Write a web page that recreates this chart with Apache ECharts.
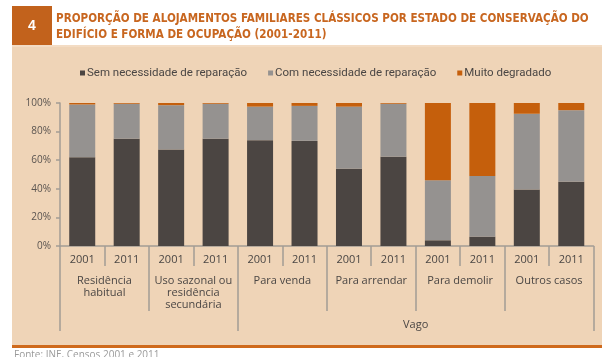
<!DOCTYPE html>
<html><head><meta charset="utf-8">
<script src="https://cdn.jsdelivr.net/npm/echarts@6/dist/echarts.min.js"></script>
<style>html,body{margin:0;padding:0;background:#fff}#c{width:610px;height:357px}</style>
</head><body><div id="c"></div>
<script>
const years = ['2001','2011','2001','2011','2001','2011','2001','2011','2001','2011','2001','2011'];
const groups = ['Residência\nhabitual','Uso sazonal ou\nresidência\nsecundária','Para venda','Para arrendar','Para demolir','Outros casos'];
const topGroup = ['','','','','','','','Vago','','','',''];
const semNecessidade = [62,75,67.5,75,74,73.5,54,62.5,4,6.5,39.5,45];
const comNecessidade = [37,24.5,31,24.5,23.5,24.5,43.5,37,42,42.5,53,50];
const muitoDegradado = [1,0.5,1.5,0.5,2.5,2,2.5,0.5,54,51,7.5,5];
const seriesNames = ['Sem necessidade de reparação','Com necessidade de reparação','Muito degradado'];
const yTicks = [0,20,40,60,80,100];

const chart = echarts.init(document.getElementById('c'), null, {renderer:'canvas'});
const FONT = 'Open Sans';
const axisCol = '#a39c95';
const txtCol = '#4a4644';
chart.setOption({
  animation:false,
  color:['#4b4542','#959290','#c55f0c'],
  graphic:[
    {type:'rect', shape:{x:12,y:47,width:590,height:298}, style:{fill:'#efd4b7'}, z:-10},
    {type:'rect', shape:{x:12,y:345,width:590,height:3}, style:{fill:'#cf6a1c'}, z:-9},
    {type:'rect', shape:{x:12,y:45,width:590,height:2}, style:{fill:'#f3dcc4'}, z:-9},
    {type:'rect', shape:{x:12,y:6,width:40,height:39}, style:{fill:'#c2621c'}},
    {type:'text', x:32, y:26, style:{text:'4', fill:'#fff', font:'bold 14px "Liberation Sans"', align:'center', verticalAlign:'middle'}},
    {type:'text', x:56, y:11, scaleX:0.965, style:{text:'PROPORÇÃO DE ALOJAMENTOS FAMILIARES CLÁSSICOS POR ESTADO DE CONSERVAÇÃO DO\nEDIFÍCIO E FORMA DE OCUPAÇÃO (2001-2011)', fill:'#c8661f', font:'bold 12px "DejaVu Sans Condensed"', lineHeight:16}},
    {type:'text', x:14, y:350, style:{text:'Fonte: INE, Censos 2001 e 2011', fill:'#9a9a9a', font:'10px "Open Sans"'}}
  ],
  legend:{
    top:62, left:75, itemWidth:5, itemHeight:5, itemGap:21, icon:'rect',
    textStyle:{fontFamily:'Roboto', fontSize:11.5, color:txtCol, padding:[0,0,0,-3]},
    data:seriesNames
  },
  grid:{left:60, right:16.5, top:103, bottom:111, containLabel:false},
  yAxis:{
    type:'value', min:0, max:100, interval:20,
    axisLine:{show:true, lineStyle:{color:axisCol, width:1.5}},
    axisTick:{show:true, length:4, lineStyle:{color:axisCol, width:1.5}},
    splitLine:{show:false},
    axisLabel:{formatter:'{value}%', fontFamily:FONT, fontSize:10, color:'#5a5450', margin:9}
  },
  xAxis:[
    {type:'category', position:'bottom', data:years,
     axisLine:{show:true, lineStyle:{color:axisCol, width:1.5}},
     axisTick:{show:true, length:20, interval:0, lineStyle:{color:axisCol, width:1.5}},
     axisLabel:{interval:0, fontFamily:FONT, fontSize:11, color:txtCol, margin:8}},
    {type:'category', position:'bottom', data:groups,
     axisLine:{show:false},
     axisTick:{show:true, length:65, interval:0, lineStyle:{color:axisCol, width:1.5}},
     axisLabel:{interval:0, fontFamily:FONT, fontSize:11, color:txtCol, margin:29, lineHeight:12}},
    {type:'category', position:'bottom', data:topGroup,
     axisLine:{show:false},
     axisTick:{show:true, length:85, interval:function(i){return i===0||i===4;}, lineStyle:{color:axisCol, width:1.5}},
     axisLabel:{interval:0, fontFamily:FONT, fontSize:11, color:txtCol, margin:73, padding:[0,0,0,44.5]}}
  ],
  series:[
    {name:seriesNames[0], type:'bar', stack:'s', barWidth:26, data:semNecessidade, xAxisIndex:0},
    {name:seriesNames[1], type:'bar', stack:'s', barWidth:26, data:comNecessidade, xAxisIndex:0},
    {name:seriesNames[2], type:'bar', stack:'s', barWidth:26, data:muitoDegradado, xAxisIndex:0}
  ]
});
</script></body></html>
